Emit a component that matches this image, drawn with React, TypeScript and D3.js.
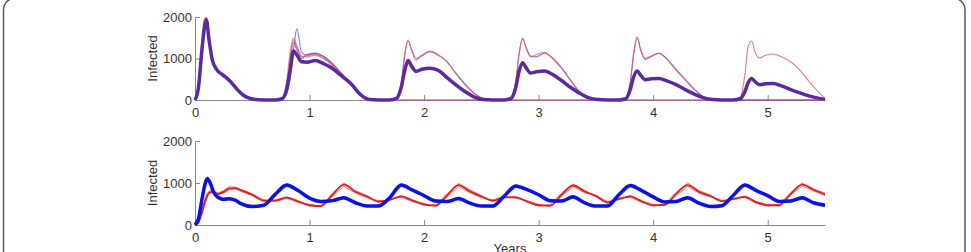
import React, { useEffect, useRef } from "react";
import * as d3 from "d3";

// years
const xTicks = [0, 1, 2, 3, 4, 5];
const yTicks = [0, 1000, 2000];

// top panel: time grid (years)
const tTop = [
	0, 0.03, 0.06, 0.08, 0.1, 0.12, 0.15, 0.19, 0.24, 0.3, 0.36, 0.42, 0.48, 0.55,
	0.7, 0.76, 0.8, 0.83, 0.86, 0.89, 0.93, 0.98, 1.05, 1.12, 1.2, 1.28, 1.36, 1.44, 1.52, 1.6,
	1.7, 1.76, 1.8, 1.83, 1.86, 1.89, 1.93, 1.98, 2.05, 2.12, 2.2, 2.28, 2.36, 2.44, 2.52, 2.6,
	2.7, 2.76, 2.8, 2.83, 2.86, 2.89, 2.93, 2.98, 3.05, 3.12, 3.2, 3.28, 3.36, 3.44, 3.52, 3.6,
	3.7, 3.76, 3.8, 3.83, 3.86, 3.89, 3.93, 3.98, 4.05, 4.12, 4.2, 4.28, 4.36, 4.44, 4.52, 4.6,
	4.7, 4.76, 4.8, 4.83, 4.86, 4.89, 4.93, 4.98, 5.05, 5.12, 5.2, 5.28, 5.36, 5.44, 5.5,
];

// thick mean curve
const topMean = [
	0, 300, 1200, 1700, 1930, 1500, 980, 730, 610, 470, 280, 120, 40, 8,
	0, 30, 250, 700, 1180, 1080, 920, 910, 950, 880, 760, 580, 400, 140, 15, 2,
	0, 40, 300, 700, 950, 820, 690, 740, 765, 720, 540, 360, 200, 70, 12, 2,
	0, 40, 300, 700, 900, 780, 650, 680, 700, 620, 470, 300, 160, 50, 10, 0,
	0, 30, 250, 560, 700, 600, 490, 510, 520, 460, 370, 250, 140, 50, 10, 0,
	0, 30, 200, 420, 520, 440, 370, 390, 400, 340, 250, 170, 100, 45, 15,
];

// single runs (thin)
const topRedA = [
	0, 350, 1300, 1850, 2000, 1560, 1000, 750, 630, 490, 300, 130, 45, 10,
	0, 40, 350, 1000, 1450, 1260, 1040, 1070, 1100, 1020, 850, 620, 390, 150, 25, 3,
	0, 50, 400, 1100, 1450, 1200, 960, 1080, 1160, 1080, 930, 620, 360, 150, 30, 4,
	0, 60, 450, 1150, 1500, 1250, 1040, 1090, 1150, 1000, 760, 460, 170, 40, 5, 0,
	0, 50, 450, 1150, 1520, 1200, 1000, 1060, 1120, 980, 720, 480, 250, 70, 10, 0,
	0, 60, 600, 1300, 1420, 1150, 1010, 1080, 1110, 1040, 920, 720, 450, 200, 50,
];
const topBlueA = [
	0, 250, 1150, 1750, 1900, 1480, 960, 740, 620, 480, 290, 125, 42, 9,
	0, 20, 150, 500, 1200, 1720, 1150, 1080, 1120, 1060, 880, 640, 400, 160, 28, 3,
	0, 45, 380, 1050, 1420, 1230, 1000, 1060, 1180, 1100, 920, 640, 380, 160, 35, 5,
	0, 55, 420, 1100, 1470, 1280, 1060, 1040, 1130, 1020, 780, 480, 190, 50, 8, 0,
	0, 45, 420, 1100, 1500, 1230, 980, 1040, 1130, 990, 740, 500, 260, 80, 12, 0,
	0, 0, 0, 0, 0, 0, 0, 0, 0, 0, 0, 0, 0, 0, 0,
];
const topRedB = [
	0, 400, 1400, 1950, 1980, 1620, 1020, 760, 640, 500, 310, 140, 50, 12,
	0, 50, 450, 1150, 1500, 1300, 1060, 1040, 1080, 1000, 820, 600, 370, 140, 20, 2,
	0, 0, 0, 0, 0, 0, 0, 0, 0, 0, 0, 0, 0, 0, 0, 0,
	0, 0, 0, 0, 0, 0, 0, 0, 0, 0, 0, 0, 0, 0, 0, 0,
	0, 0, 0, 0, 0, 0, 0, 0, 0, 0, 0, 0, 0, 0, 0, 0,
	0, 0, 0, 0, 0, 0, 0, 0, 0, 0, 0, 0, 0, 0, 0,
];
const topBlueB = [
	0, 200, 1000, 1650, 1880, 1450, 940, 720, 600, 460, 270, 110, 35, 6,
	0, 30, 300, 900, 1380, 1200, 1000, 1100, 1130, 1050, 870, 630, 380, 140, 22, 2,
	0, 0, 0, 0, 0, 0, 0, 0, 0, 0, 0, 0, 0, 0, 0, 0,
	0, 0, 0, 0, 0, 0, 0, 0, 0, 0, 0, 0, 0, 0, 0, 0,
	0, 0, 0, 0, 0, 0, 0, 0, 0, 0, 0, 0, 0, 0, 0, 0,
	0, 0, 0, 0, 0, 0, 0, 0, 0, 0, 0, 0, 0, 0, 0,
];

// bottom panel
const tBot = [
	0, 0.03, 0.06, 0.09, 0.11, 0.13, 0.16, 0.2, 0.25, 0.3, 0.35, 0.4, 0.5, 0.6, 0.7, 0.8, 0.9,
	1.0, 1.1, 1.2, 1.3, 1.4, 1.5, 1.6, 1.7, 1.8, 1.9,
	2.0, 2.1, 2.2, 2.3, 2.4, 2.5, 2.6, 2.7, 2.8, 2.9,
	3.0, 3.1, 3.2, 3.3, 3.4, 3.5, 3.6, 3.7, 3.8, 3.9,
	4.0, 4.1, 4.2, 4.3, 4.4, 4.5, 4.6, 4.7, 4.8, 4.9,
	5.0, 5.1, 5.2, 5.3, 5.4, 5.5,
];
const botBlue = [
	0, 150, 600, 1000, 1100, 1020, 800, 660, 610, 625, 590, 510, 440, 470, 730, 950, 820,
	640, 560, 580, 650, 530, 450, 450, 650, 950, 830,
	700, 570, 560, 630, 520, 450, 450, 690, 930, 840,
	720, 580, 570, 670, 530, 450, 450, 720, 940, 820,
	670, 550, 560, 650, 520, 440, 460, 710, 950, 820,
	700, 560, 570, 650, 530, 470,
];
const botRed = [
	0, 60, 300, 580, 720, 780, 790, 740, 790, 870, 880, 830, 720, 580, 580, 650, 560,
	470, 450, 720, 960, 790, 680, 560, 600, 680, 580,
	490, 460, 700, 950, 800, 680, 580, 660, 660, 560,
	470, 460, 720, 940, 800, 690, 540, 620, 680, 560,
	470, 480, 740, 950, 790, 690, 570, 620, 670, 540,
	470, 470, 740, 960, 840, 730,
];
const botRedRunA = [
	0, 80, 350, 640, 760, 820, 800, 760, 820, 910, 900, 850, 740, 600, 560, 640, 540,
	490, 430, 760, 1000, 820, 700, 540, 620, 660, 560,
	470, 480, 740, 990, 840, 700, 560, 650, 680, 540,
	450, 480, 760, 980, 830, 670, 520, 640, 660, 540,
	450, 500, 780, 1000, 820, 710, 560, 640, 650, 520,
	450, 490, 770, 1000, 860, 760,
];
const botRedRunB = [
	0, 40, 250, 520, 690, 750, 770, 720, 760, 840, 860, 800, 700, 560, 600, 670, 580,
	450, 470, 680, 920, 760, 650, 580, 590, 700, 600,
	510, 440, 660, 920, 770, 650, 600, 680, 640, 580,
	490, 440, 690, 910, 770, 710, 560, 600, 700, 580,
	490, 460, 700, 920, 760, 670, 590, 600, 690, 560,
	490, 450, 710, 930, 810, 700,
];
const botBlueRunA = [
	0, 200, 700, 1080, 1150, 1040, 820, 680, 640, 650, 600, 530, 430, 490, 760, 980, 840,
	660, 580, 600, 680, 550, 440, 470, 680, 980, 850,
	720, 590, 580, 660, 540, 440, 470, 720, 960, 860,
	740, 600, 590, 700, 550, 440, 470, 750, 970, 840,
	690, 570, 580, 680, 540, 430, 480, 740, 980, 840,
	720, 580, 590, 680, 550, 490,
];
const botBlueRunB = [
	0, 110, 520, 930, 1060, 990, 780, 640, 590, 600, 570, 490, 450, 450, 700, 920, 800,
	620, 540, 560, 620, 510, 460, 430, 620, 920, 810,
	680, 550, 540, 600, 500, 460, 430, 660, 900, 820,
	700, 560, 550, 640, 510, 460, 430, 690, 910, 800,
	650, 530, 540, 620, 500, 450, 440, 680, 920, 800,
	680, 540, 550, 620, 510, 450,
];

const FONT = "'Liberation Sans', Arial, sans-serif";
const AXIS_GREY = "#8a8a8a";
const TEXT = "#333";

type Pt = [number, number];
const zip = (t: number[], v: number[]): Pt[] => t.map((d, i) => [d, v[i]] as Pt);

export default function App() {
	const svgRef = useRef<SVGSVGElement | null>(null);

	useEffect(() => {
		if (!svgRef.current) return;
		const svg = d3.select(svgRef.current);
		svg.selectAll("*").remove();

		// outer frame
		svg
			.append("rect")
			.attr("x", 3.5)
			.attr("y", -2)
			.attr("width", 961.5)
			.attr("height", 320)
			.attr("rx", 12)
			.attr("fill", "none")
			.attr("stroke", "#5a5a5a")
			.attr("stroke-width", 1.5);

		const x = d3.scaleLinear().domain([0, 5.5]).range([195, 825]);

		const drawAxes = (y: d3.ScaleLinear<number, number>) => {
			const gx = svg
				.append("g")
				.attr("transform", `translate(0,${y(0)})`)
				.call(d3.axisBottom(x).tickValues(xTicks).tickFormat(d3.format("d")).tickSizeInner(-5).tickSizeOuter(0).tickPadding(8));
			const gy = svg
				.append("g")
				.attr("transform", `translate(${x(0)},0)`)
				.call(d3.axisLeft(y).tickValues(yTicks).tickFormat(d3.format("d")).tickSizeInner(-5).tickSizeOuter(0).tickPadding(3));
			[gx, gy].forEach((g) => {
				g.attr("font-family", FONT).attr("font-size", 13);
				g.selectAll("path, line").attr("stroke", AXIS_GREY);
				g.selectAll("text").attr("fill", TEXT);
			});
			svg
				.append("text")
				.attr("transform", `translate(152,${(y(0) + y(2000)) / 2}) rotate(-90)`)
				.attr("text-anchor", "middle")
				.attr("dominant-baseline", "central")
				.attr("font-family", FONT)
				.attr("font-size", 13)
				.attr("fill", TEXT)
				.text("Infected");
		};

		const drawLine = (
			y: d3.ScaleLinear<number, number>,
			t: number[],
			v: number[],
			color: string,
			width: number,
			curve: d3.CurveFactory = d3.curveMonotoneX
		) => {
			const line = d3
				.line<Pt>()
				.x((d) => x(d[0]))
				.y((d) => y(d[1]))
				.curve(curve);
			svg
				.append("path")
				.attr("d", line(zip(t, v)))
				.attr("fill", "none")
				.attr("stroke", color)
				.attr("stroke-width", width)
				.attr("stroke-linejoin", "round");
		};

		// top panel
		const yTop = d3.scaleLinear().domain([0, 2000]).range([100, 17]);
		drawAxes(yTop);
		drawLine(yTop, tTop, topBlueB, "rgba(80,80,235,0.75)", 1.1);
		drawLine(yTop, tTop, topBlueA, "rgba(80,80,235,0.75)", 1.1);
		drawLine(yTop, tTop, topRedB, "rgba(235,90,90,0.75)", 1.1);
		drawLine(yTop, tTop, topRedA, "rgba(235,90,90,0.8)", 1.1);
		drawLine(yTop, tTop, topMean, "#5a2aa0", 3.5);

		// bottom panel
		const yBot = d3.scaleLinear().domain([0, 2000]).range([225, 141]);
		drawAxes(yBot);
		drawLine(yBot, tBot, botRedRunA, "rgba(230,60,60,0.7)", 1, d3.curveLinear);
		drawLine(yBot, tBot, botRedRunB, "rgba(230,60,60,0.7)", 1, d3.curveLinear);
		drawLine(yBot, tBot, botBlueRunA, "rgba(60,60,235,0.65)", 1, d3.curveLinear);
		drawLine(yBot, tBot, botBlueRunB, "rgba(60,60,235,0.65)", 1, d3.curveLinear);
		drawLine(yBot, tBot, botRed, "#e41e1e", 1.8);
		drawLine(yBot, tBot, botBlue, "#0a12e6", 3.5);

		svg
			.append("text")
			.attr("x", x(2.75))
			.attr("y", 253)
			.attr("text-anchor", "middle")
			.attr("font-family", FONT)
			.attr("font-size", 13)
			.attr("fill", TEXT)
			.text("Years");
	}, []);

	return (
		<svg
			ref={svgRef}
			width={971}
			height={252}
			style={{ position: "absolute", left: 0, top: 0, background: "#fff" }}
		/>
	);
}
